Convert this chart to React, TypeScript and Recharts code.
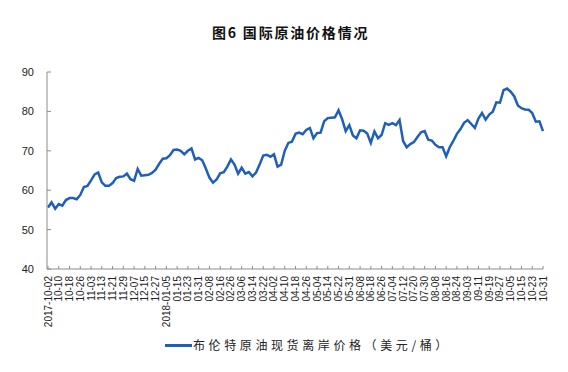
import React from 'react';
import { LineChart, Line, XAxis, YAxis } from 'recharts';

const tickLabels = [
  '2017-10-02', '10-10', '10-18', '10-26', '11-03', '11-13', '11-21', '11-29', '12-07', '12-15', '12-27',
  '2018-01-05', '01-15', '01-23', '01-31', '02-08', '02-16', '02-26', '03-06', '03-14', '03-22', '04-02', '04-10',
  '04-18', '04-26', '05-04', '05-14', '05-22', '05-31', '06-08', '06-18', '06-26', '07-04', '07-12', '07-20',
  '07-30', '08-08', '08-16', '08-24', '09-03', '09-11', '09-19', '09-27', '10-05', '10-15', '10-23', '10-31',
];

// Brent spot FOB price (USD/barrel), one value every 2 trading days
const brentPrice = [
  55.6, 56.9, 55.3, 56.5, 56.1, 57.5, 58.0, 58.0, 57.7, 58.8,
  60.8, 61.1, 62.5, 64.0, 64.5, 62.0, 61.1, 61.1, 61.8, 63.1,
  63.4, 63.5, 64.2, 62.8, 62.4, 65.4, 63.7, 63.8, 63.9, 64.4,
  65.2, 66.7, 68.0, 68.1, 68.9, 70.2, 70.3, 70.0, 69.1, 70.0,
  70.6, 67.8, 68.2, 67.6, 65.5, 63.2, 61.9, 62.7, 64.3, 64.6,
  66.0, 67.8, 66.5, 64.2, 65.7, 64.2, 64.6, 63.5, 64.5, 66.5,
  68.8, 69.0, 68.5, 69.1, 66.0, 66.5, 70.0, 72.0, 72.3, 74.3,
  74.6, 74.2, 75.3, 75.8, 73.2, 74.5, 74.6, 77.5, 78.3, 78.4,
  78.5, 80.3, 78.0, 75.0, 76.5, 73.9, 73.2, 75.2, 75.1, 74.4,
  72.0, 74.9, 73.2, 74.0, 77.0, 76.6, 77.0, 76.5, 77.8, 72.5,
  70.9, 71.7, 72.2, 73.5, 74.7, 75.0, 72.8, 72.6, 71.5, 70.9,
  70.9, 68.6, 70.9, 72.5, 74.3, 75.5, 77.1, 77.8, 76.8, 75.8,
  78.2, 79.6, 77.9, 79.2, 79.9, 82.3, 82.2, 85.4, 85.8, 85.0,
  83.8, 81.5, 80.8, 80.5, 80.4, 79.6, 77.4, 77.5, 75.0,
];

const yTicks = [40, 50, 60, 70, 80, 90];
const STEP = 3;

const data = brentPrice.map((v, i) => ({ i, price: v }));
const xTicks = tickLabels.map((_, k) => k * STEP);

const LINE_COLOR = '#1F5FBA';
const AXIS_COLOR = '#8c8c8c';
const FONT = '"Liberation Sans", Arial, sans-serif';
const CJK = '"Noto Sans CJK SC", "Noto Sans", sans-serif';

const XTick = (props: any) => {
  const { x, y, payload } = props;
  const label = tickLabels[Math.round(payload.value / STEP)] ?? '';
  return (
    <text
      x={x}
      y={y}
      transform={`rotate(-90, ${x}, ${y})`}
      textAnchor="end"
      dy="0.35em"
      fontSize={10}
      fontFamily={FONT}
      fill="#222"
    >
      {label}
    </text>
  );
};

export default function App() {
  return (
    <div style={{ position: 'absolute', left: 0, top: 0, width: 568, height: 372, background: '#fff' }}>
      <div
        style={{
          position: 'absolute',
          left: 212,
          top: 22,
          fontFamily: CJK,
          fontSize: 14,
          fontWeight: 'bold',
          letterSpacing: 1.8,
          color: '#111',
          whiteSpace: 'nowrap',
          lineHeight: '20px',
        }}
      >
        图6 国际原油价格情况
      </div>
      <LineChart
        width={568}
        height={372}
        data={data}
        margin={{ top: 72, right: 25, bottom: 0, left: 0 }}
      >
        <XAxis
          dataKey="i"
          type="category"
          ticks={xTicks}
          interval={0}
          height={103}
          padding={{ left: 1, right: 0 }}
          axisLine={{ stroke: AXIS_COLOR }}
          tickLine={{ stroke: AXIS_COLOR }}
          tickSize={-3}
          tickMargin={10}
          tick={<XTick />}
        />
        <YAxis
          domain={[40, 90]}
          ticks={yTicks}
          width={47}
          axisLine={{ stroke: AXIS_COLOR }}
          tickLine={{ stroke: AXIS_COLOR }}
          tickSize={-4}
          tickMargin={17}
          tick={{ fontSize: 11, fontFamily: FONT, fill: '#222' }}
          interval={0}
        />
        <Line
          type="linear"
          dataKey="price"
          stroke={LINE_COLOR}
          strokeWidth={2.5}
          dot={false}
          isAnimationActive={false}
        />
      </LineChart>
      <div
        style={{
          position: 'absolute',
          left: 165,
          top: 336,
          display: 'flex',
          alignItems: 'center',
          whiteSpace: 'nowrap',
        }}
      >
        <div style={{ width: 27, height: 3, background: LINE_COLOR }} />
        <span
          style={{
            marginLeft: 1,
            fontFamily: CJK,
            fontSize: 12,
            letterSpacing: 3.6,
            color: '#222',
            lineHeight: '18px',
          }}
        >
          布伦特原油现货离岸价格（美元/桶）
        </span>
      </div>
    </div>
  );
}
